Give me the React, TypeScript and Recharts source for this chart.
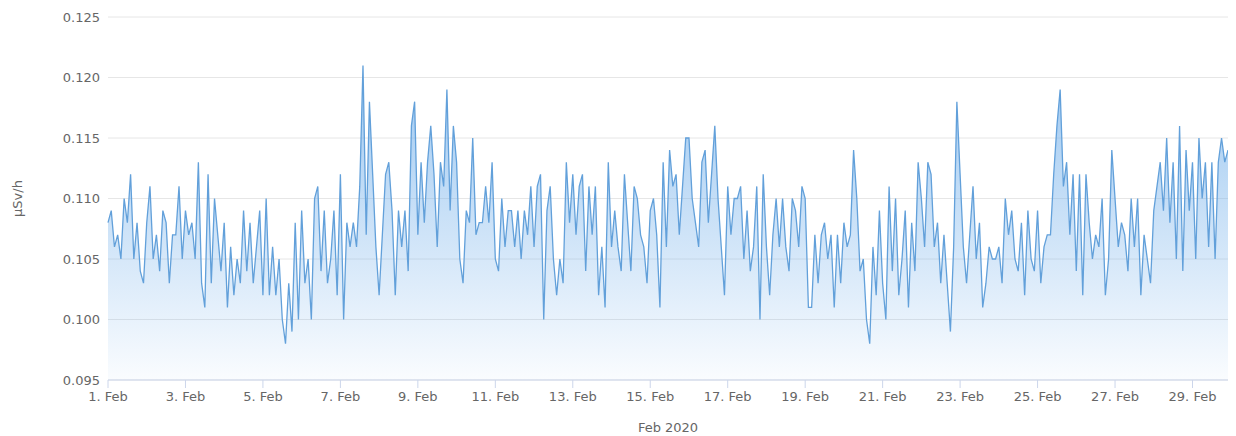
import { Area, AreaChart, CartesianGrid, XAxis, YAxis } from "recharts";

// readings every 2 hours, µSv/h, one line per day
const week1 = [
  0.108, 0.109, 0.106, 0.107, 0.105, 0.110, 0.108, 0.112, 0.105, 0.108, 0.104, 0.103,
  0.108, 0.111, 0.105, 0.107, 0.104, 0.109, 0.108, 0.103, 0.107, 0.107, 0.111, 0.105,
  0.109, 0.107, 0.108, 0.105, 0.113, 0.103, 0.101, 0.112, 0.103, 0.110, 0.107, 0.104,
  0.108, 0.101, 0.106, 0.102, 0.105, 0.103, 0.109, 0.104, 0.108, 0.103, 0.106, 0.109,
  0.102, 0.110, 0.102, 0.106, 0.102, 0.105, 0.100, 0.098, 0.103, 0.099, 0.108, 0.100,
  0.109, 0.103, 0.105, 0.100, 0.110, 0.111, 0.104, 0.109, 0.103, 0.105, 0.109, 0.102,
  0.112, 0.100, 0.108, 0.106, 0.108, 0.106, 0.111, 0.121, 0.107, 0.118, 0.112, 0.106,
];
const week2 = [
  0.102, 0.107, 0.112, 0.113, 0.109, 0.102, 0.109, 0.106, 0.109, 0.104, 0.116, 0.118,
  0.107, 0.113, 0.108, 0.113, 0.116, 0.112, 0.106, 0.113, 0.111, 0.119, 0.109, 0.116,
  0.113, 0.105, 0.103, 0.109, 0.108, 0.115, 0.107, 0.108, 0.108, 0.111, 0.108, 0.113,
  0.105, 0.104, 0.110, 0.106, 0.109, 0.109, 0.106, 0.109, 0.105, 0.109, 0.107, 0.111,
  0.106, 0.111, 0.112, 0.100, 0.109, 0.111, 0.105, 0.102, 0.105, 0.103, 0.113, 0.108,
  0.112, 0.107, 0.111, 0.112, 0.104, 0.111, 0.107, 0.111, 0.102, 0.106, 0.101, 0.113,
  0.106, 0.109, 0.106, 0.104, 0.112, 0.108, 0.104, 0.111, 0.110, 0.107, 0.106, 0.103,
];
const week3 = [
  0.109, 0.110, 0.107, 0.101, 0.113, 0.106, 0.114, 0.111, 0.112, 0.107, 0.111, 0.115,
  0.115, 0.110, 0.108, 0.106, 0.113, 0.114, 0.108, 0.112, 0.116, 0.110, 0.106, 0.102,
  0.111, 0.107, 0.110, 0.110, 0.111, 0.105, 0.109, 0.104, 0.106, 0.111, 0.100, 0.112,
  0.106, 0.102, 0.107, 0.110, 0.106, 0.110, 0.106, 0.104, 0.110, 0.109, 0.106, 0.111,
  0.110, 0.101, 0.101, 0.107, 0.103, 0.107, 0.108, 0.105, 0.107, 0.101, 0.107, 0.103,
  0.108, 0.106, 0.107, 0.114, 0.110, 0.104, 0.105, 0.100, 0.098, 0.106, 0.102, 0.109,
  0.103, 0.100, 0.111, 0.104, 0.110, 0.102, 0.105, 0.109, 0.101, 0.108, 0.104, 0.113,
];
const week4 = [
  0.110, 0.106, 0.113, 0.112, 0.106, 0.108, 0.103, 0.107, 0.103, 0.099, 0.106, 0.118,
  0.112, 0.106, 0.103, 0.107, 0.111, 0.105, 0.108, 0.101, 0.103, 0.106, 0.105, 0.105,
  0.106, 0.103, 0.110, 0.107, 0.109, 0.105, 0.104, 0.108, 0.102, 0.109, 0.105, 0.104,
  0.109, 0.103, 0.106, 0.107, 0.107, 0.112, 0.116, 0.119, 0.111, 0.113, 0.107, 0.112,
  0.104, 0.112, 0.102, 0.112, 0.108, 0.105, 0.107, 0.106, 0.110, 0.102, 0.105, 0.114,
  0.110, 0.106, 0.108, 0.107, 0.104, 0.110, 0.106, 0.110, 0.102, 0.107, 0.105, 0.103,
  0.109, 0.111, 0.113, 0.109, 0.115, 0.108, 0.113, 0.105, 0.116, 0.104, 0.114, 0.109,
];
const leapDay = [
  0.113, 0.105, 0.115, 0.110, 0.113, 0.106, 0.113, 0.105, 0.113, 0.115, 0.113, 0.114,
];

const tickLabels = [
  "1. Feb", "3. Feb", "5. Feb", "7. Feb", "9. Feb", "11. Feb", "13. Feb", "15. Feb",
  "17. Feb", "19. Feb", "21. Feb", "23. Feb", "25. Feb", "27. Feb", "29. Feb",
];
const yTicks = [0.095, 0.1, 0.105, 0.11, 0.115, 0.12, 0.125];

const readings = [...week1, ...week2, ...week3, ...week4, ...leapDay];
const data = readings.map((value, i) => ({ hour: i * 2, value }));
const tickHours = tickLabels.map((_, i) => i * 48);

const font = { fontFamily: "DejaVu Sans, sans-serif", fontSize: 13, fill: "#666666" };

export default function App() {
  return (
    <div style={{ width: 1228, height: 428 }}>
      <AreaChart width={1228} height={428} data={data} margin={{ top: 9, right: 8, bottom: 0, left: 0 }}>
        <defs>
          <linearGradient id="doseFill" x1="0" y1="0" x2="0" y2="1">
            <stop offset="0%" stopColor="#7cb5ec" stopOpacity={0.75} />
            <stop offset="100%" stopColor="#7cb5ec" stopOpacity={0.04} />
          </linearGradient>
        </defs>
        <CartesianGrid vertical={false} stroke="#e6e6e6" />
        <XAxis
          dataKey="hour"
          type="number"
          domain={[0, 694]}
          ticks={tickHours}
          tickFormatter={(h: number) => tickLabels[Math.round(h / 48)]}
          stroke="#ccd6eb"
          tick={font}
          tickSize={8}
          tickMargin={4}
          height={56}
          label={{ value: "Feb 2020", position: "insideBottom", offset: 4, style: font }}
        />
        <YAxis
          domain={[0.095, 0.125]}
          ticks={yTicks}
          allowDataOverflow
          tickFormatter={(v: number) => v.toFixed(3)}
          axisLine={false}
          tickLine={false}
          width={100}
          tick={font}
          label={{ value: "µSv/h", angle: -90, position: "insideLeft", offset: 9, style: { ...font, textAnchor: "middle" } }}
        />
        <Area
          type="linear"
          dataKey="value"
          stroke="#62a0da"
          strokeWidth={1.3}
          fill="url(#doseFill)"
          fillOpacity={1}
          dot={false}
          activeDot={false}
          baseValue="dataMin"
          isAnimationActive={false}
        />
      </AreaChart>
    </div>
  );
}
